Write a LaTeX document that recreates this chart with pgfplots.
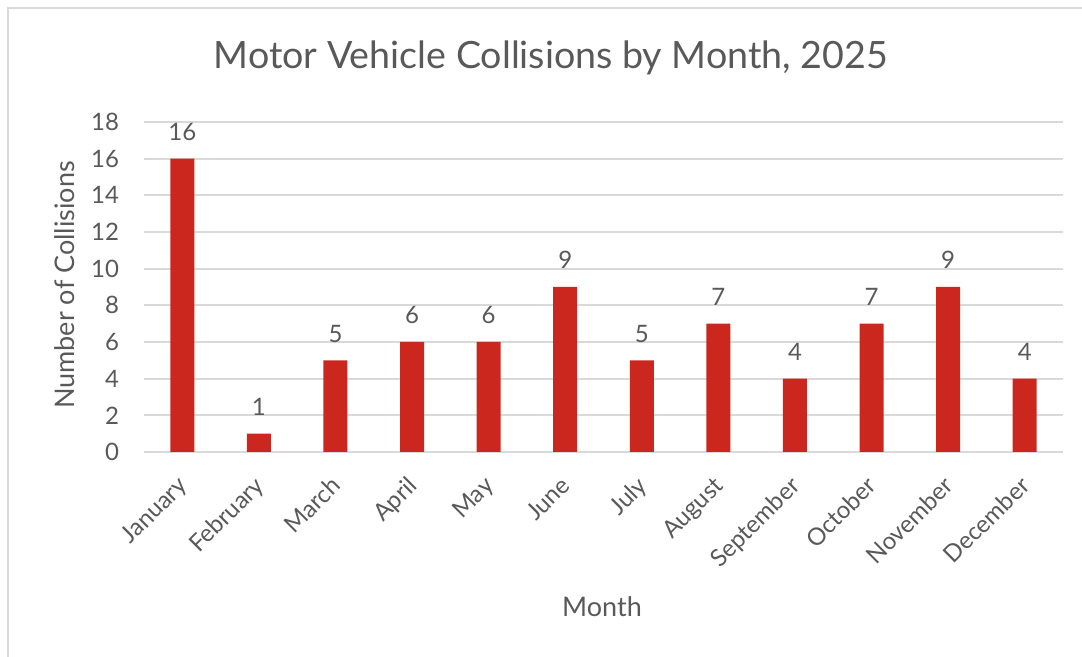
\documentclass[border=0pt]{standalone}
\usepackage{pgfplots}
\pgfplotsset{compat=1.18}
\usepackage{fontspec}
\setmainfont{Lato}

\definecolor{barred}{RGB}{204,39,31}
\definecolor{txtgray}{RGB}{89,89,89}
\definecolor{gridgray}{RGB}{217,217,217}

\begin{document}
\begin{tikzpicture}
% canvas 1082 x 657 px, 1 px = 0.5pt, origin bottom left
\begin{scope}[x=0.5pt,y=0.5pt]
\path[use as bounding box] (0,0) rectangle (1082,657);
\draw[gridgray, line width=1pt] (8,0) -- (8,649) -- (1082,649);

\node[txtgray, font=\fontsize{18.8}{20}\selectfont] at (551,599) {Motor Vehicle Collisions by Month, 2025};
\node[txtgray, font=\fontsize{13.5}{15}\selectfont, rotate=90] at (65,372) {Number of Collisions};
\node[txtgray, font=\fontsize{13.5}{15}\selectfont] at (602,50) {Month};
\end{scope}

\begin{axis}[
    at={(72pt,102.5pt)}, anchor=south west,
    scale only axis,
    width=459.5pt, height=165pt,
    xmin=-0.5, xmax=11.5,
    ymin=0, ymax=18,
    ytick={0,2,...,18},
    xtick={0,...,11},
    xticklabels={January,February,March,April,May,June,July,August,September,October,November,December},
    axis x line*=bottom,
    axis y line*=left,
    x axis line style={gridgray, line width=1pt, -},
    y axis line style={draw=none},
    ymajorgrids=true,
    grid style={gridgray, line width=1pt},
    major tick length=0pt,
    tick label style={txtgray, font=\fontsize{12}{14}\selectfont},
    /pgf/number format/assume math mode=true,
    yticklabel style={anchor=east, xshift=-9pt},
    xticklabel style={xshift=-3pt, yshift=-6.5pt, rotate=45, anchor=north east},
    ybar, bar width=12pt,
    nodes near coords,
    every node near coord/.append style={txtgray, font=\fontsize{12}{14}\selectfont, yshift=5.5pt},
    clip=false,
]
\addplot[fill=barred, draw=none] coordinates {
(0,16) (1,1) (2,5) (3,6) (4,6) (5,9) (6,5) (7,7) (8,4) (9,7) (10,9) (11,4)};
\end{axis}
\end{tikzpicture}
\end{document}
